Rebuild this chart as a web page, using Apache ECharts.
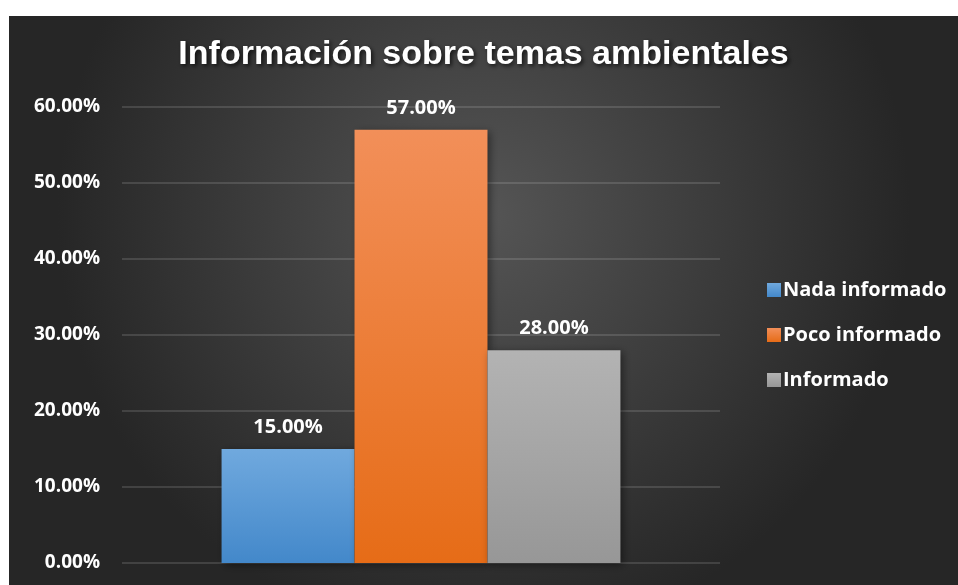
<!DOCTYPE html>
<html>
<head>
<meta charset="utf-8">
<script src="https://cdn.jsdelivr.net/npm/echarts@6/dist/echarts.min.js"></script>
<style>
  html, body { margin: 0; padding: 0; background: #fff; }
  #chart { position: absolute; left: 9px; top: 16px; width: 949px; height: 569px; }
</style>
</head>
<body>
<div id="chart"></div>
<script>
const categories = ['Información sobre temas ambientales']
const seriesNames = ['Nada informado', 'Poco informado', 'Informado']
const seriesValues = [[0.15], [0.57], [0.28]]
const yTicks = { min: 0, max: 0.6, interval: 0.1 }

const gradients = [
  ['#70a9de', '#4388ca'],
  ['#f28f59', '#e66c17'],
  ['#b3b3b3', '#979797']
]

const fontFamily = '"Open Sans", Lato, sans-serif'

const chart = echarts.init(document.getElementById('chart'))

const option = {
  backgroundColor: {
    type: 'radial',
    x: 0.5,
    y: 0.35,
    r: 0.75,
    colorStops: [
      { offset: 0, color: '#555555' },
      { offset: 1, color: '#262626' }
    ]
  },
  title: {
    text: 'Información sobre temas ambientales',
    left: 'center',
    top: 17,
    textStyle: {
      color: '#fff',
      fontSize: 34,
      fontWeight: 'bold',
      fontFamily: '"Liberation Sans", Arial, sans-serif',
      textShadowColor: 'rgba(0,0,0,0.7)',
      textShadowBlur: 4,
      textShadowOffsetX: 2,
      textShadowOffsetY: 2
    }
  },
  legend: {
    orient: 'vertical',
    left: 753,
    top: 259,
    itemWidth: 14,
    itemHeight: 14,
    itemGap: 25,
    icon: 'rect',
    textStyle: {
      color: '#fff',
      fontSize: 20,
      fontWeight: 'bold',
      fontFamily: fontFamily,
      padding: [0, 0, 0, -3]
    },
    data: seriesNames
  },
  grid: {
    left: 113,
    right: 238,
    top: 91,
    bottom: 22
  },
  xAxis: {
    type: 'category',
    data: categories,
    axisLine: { show: false },
    axisTick: { show: false },
    axisLabel: { show: false }
  },
  yAxis: {
    type: 'value',
    min: yTicks.min,
    max: yTicks.max,
    interval: yTicks.interval,
    axisLine: { show: false },
    axisTick: { show: false },
    axisLabel: {
      color: '#fff',
      fontSize: 19,
      fontWeight: 'bold',
      fontFamily: fontFamily,
      margin: 22,
      formatter: v => (v * 100).toFixed(2) + '%'
    },
    splitLine: {
      lineStyle: { color: 'rgba(255,255,255,0.13)', width: 2 }
    }
  },
  series: seriesNames.map((name, i) => ({
    name: name,
    type: 'bar',
    data: seriesValues[i],
    barGap: 0,
    barCategoryGap: '33.3%',
    itemStyle: {
      color: {
        type: 'linear', x: 0, y: 0, x2: 0, y2: 1,
        colorStops: [
          { offset: 0, color: gradients[i][0] },
          { offset: 1, color: gradients[i][1] }
        ]
      },
      shadowColor: 'rgba(0,0,0,0.45)',
      shadowBlur: 8,
      shadowOffsetX: 3,
      shadowOffsetY: 2
    },
    label: {
      show: true,
      position: 'top',
      distance: 12,
      color: '#fff',
      fontSize: 20,
      fontWeight: 'bold',
      fontFamily: fontFamily,
      formatter: p => (p.value * 100).toFixed(2) + '%'
    }
  }))
}

chart.setOption(option)
</script>
</body>
</html>
